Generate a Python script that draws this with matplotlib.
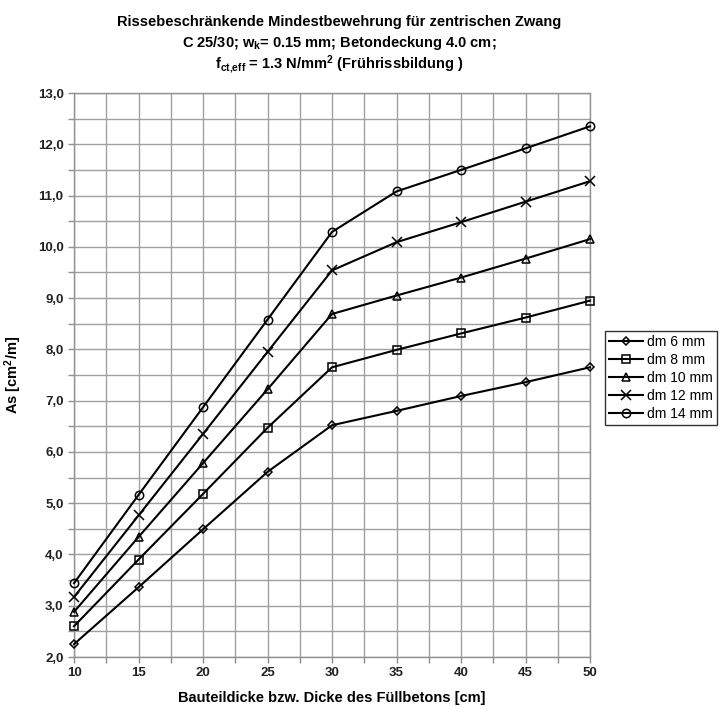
import numpy as np
import matplotlib
matplotlib.use("Agg")
import matplotlib.pyplot as plt
from matplotlib.ticker import MultipleLocator, FuncFormatter

plt.rcParams["font.family"] = ["Liberation Sans", "DejaVu Sans"]
plt.rcParams["mathtext.fontset"] = "custom"
plt.rcParams["mathtext.rm"] = "Liberation Sans:bold"
plt.rcParams["mathtext.bf"] = "Liberation Sans:bold"
plt.rcParams["mathtext.it"] = "Liberation Sans:bold"

# Werte
dicke = [10, 15, 20, 25, 30, 35, 40, 45, 50]
dm6 = [2.25, 3.36, 4.49, 5.61, 6.52, 6.80, 7.09, 7.36, 7.65]
dm8 = [2.60, 3.90, 5.18, 6.47, 7.65, 7.99, 8.31, 8.62, 8.95]
dm10 = [2.88, 4.34, 5.78, 7.22, 8.69, 9.05, 9.40, 9.77, 10.15]
dm12 = [3.17, 4.76, 6.35, 7.95, 9.54, 10.09, 10.48, 10.88, 11.28]
dm14 = [3.44, 5.16, 6.87, 8.58, 10.29, 11.08, 11.50, 11.92, 12.35]
labels = ["dm 6 mm", "dm 8 mm", "dm 10 mm", "dm 12 mm", "dm 14 mm"]

fig = plt.figure(figsize=(7.24, 7.09), dpi=100)
ax = fig.add_axes([74/724, 1 - 657/709, (590-74)/724, (657-93)/709])

series = [dm6, dm8, dm10, dm12, dm14]
markers = ["D", "s", "^", "x", "o"]
sizes = [4.2, 5.8, 6, 7.5, 6]
for vals, m, ms, lab in zip(series, markers, sizes, labels):
    ax.plot(dicke, vals, color="black", lw=1.5, marker=m, markersize=ms,
            markerfacecolor="none", markeredgecolor="black", markeredgewidth=1.1,
            label=lab, clip_on=False, zorder=3)

ax.set_xlim(10, 50)
ax.set_ylim(2.0, 13.0)
ax.xaxis.set_major_locator(MultipleLocator(5))
ax.xaxis.set_minor_locator(MultipleLocator(2.5))
ax.yaxis.set_major_locator(MultipleLocator(1))
ax.yaxis.set_minor_locator(MultipleLocator(0.5))
ax.yaxis.set_major_formatter(FuncFormatter(lambda v, p: ("%.1f" % v).replace(".", ",")))
ax.grid(which="both", color="#a0a0a0", lw=1.0)
ax.set_axisbelow(True)
for s in ax.spines.values():
    s.set_color("#909090")
    s.set_linewidth(1.0)
ax.tick_params(which="both", direction="out", length=4, color="#909090", width=1.0)
ax.tick_params(labelsize=9.5)
for t in ax.get_xticklabels() + ax.get_yticklabels():
    t.set_fontweight("bold")
    t.set_color("#222222")

ax.set_xlabel("Bauteildicke bzw. Dicke des Füllbetons [cm]", fontsize=10.5,
              fontweight="bold", labelpad=8)
ax.set_ylabel("As [cm$^{2}$/m]", fontsize=10.5, fontweight="bold", labelpad=10)

tx = 339/724
fig.text(tx, 1 - 22/709, "Rissebeschränkende Mindestbewehrung für zentrischen Zwang",
         ha="center", va="center", fontsize=10.5, fontweight="bold")
fig.text(tx, 1 - 43/709, "C 25/30; w$_{k}$= 0.15 mm; Betondeckung 4.0 cm;",
         ha="center", va="center", fontsize=10.5, fontweight="bold")
fig.text(tx, 1 - 64/709, "f$_{ct{,}eff}$ = 1.3 N/mm$^{2}$ (Frührissbildung )",
         ha="center", va="center", fontsize=10.5, fontweight="bold")

leg = ax.legend(loc="upper left", bbox_to_anchor=(605/724, 1 - 331/709),
                bbox_transform=fig.transFigure, frameon=True, fancybox=False,
                edgecolor="black", fontsize=10, handlelength=2.4, handletextpad=0.3,
                labelspacing=0.28, borderpad=0.3, borderaxespad=0)
leg.get_frame().set_linewidth(1.0)

fig.savefig("out.png", dpi=100)
